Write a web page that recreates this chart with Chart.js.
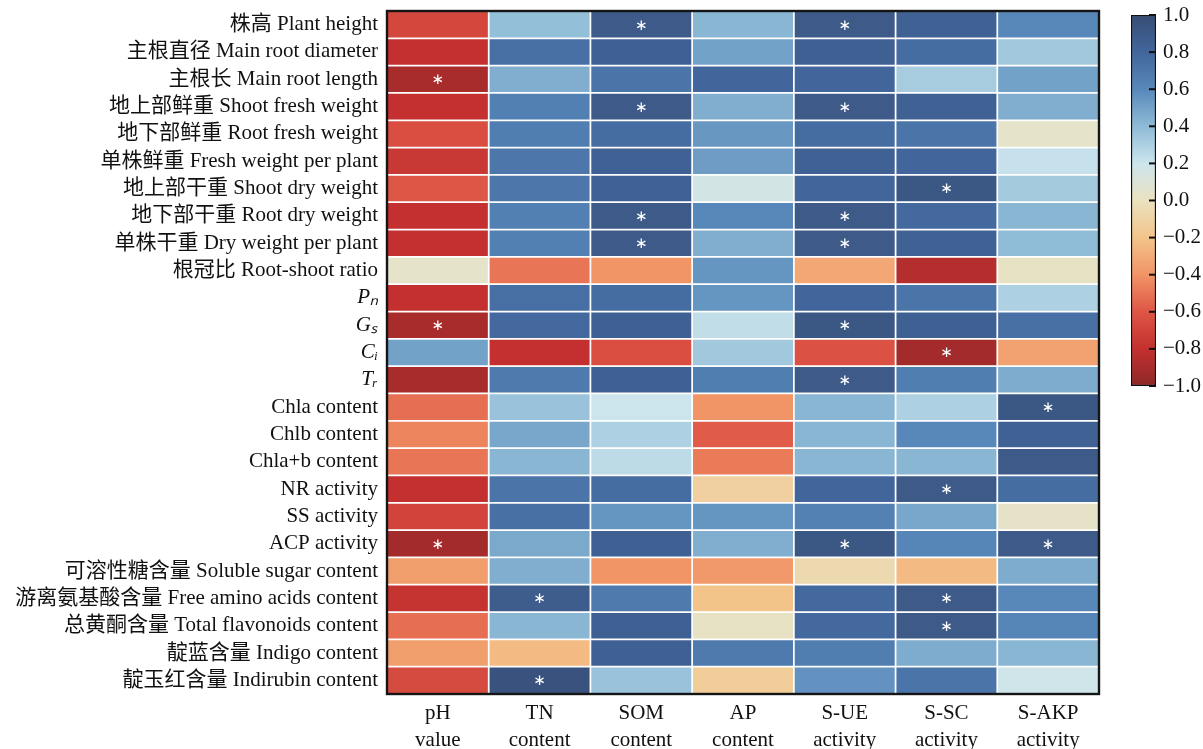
<!DOCTYPE html>
<html>
<head>
<meta charset="utf-8">
<script src="https://cdn.jsdelivr.net/npm/chart.js@4.4.1/dist/chart.umd.min.js"></script>
<style>
  html, body { margin: 0; padding: 0; background: #ffffff; }
  #wrap { position: relative; width: 1203px; height: 749px; overflow: hidden; background: #ffffff; }
  #heat { position: absolute; left: 0; top: 0; }
  #cbar { position: absolute; left: 1100px; top: 0; }
</style>
</head>
<body>
<div id="wrap">
  <canvas id="heat" width="1203" height="749"></canvas>
  <canvas id="cbar" width="103" height="400"></canvas>
</div>
<script>
// ---------------- DATA ----------------
const rowLabels = [
  "株高 Plant height",
  "主根直径 Main root diameter",
  "主根长 Main root length",
  "地上部鲜重 Shoot fresh weight",
  "地下部鲜重 Root fresh weight",
  "单株鲜重 Fresh weight per plant",
  "地上部干重 Shoot dry weight",
  "地下部干重 Root dry weight",
  "单株干重 Dry weight per plant",
  "根冠比 Root-shoot ratio",
  "Pₙ",
  "Gₛ",
  "Cᵢ",
  "Tᵣ",
  "Chla content",
  "Chlb content",
  "Chla+b content",
  "NR activity",
  "SS activity",
  "ACP activity",
  "可溶性糖含量 Soluble sugar content",
  "游离氨基酸含量 Free amino acids content",
  "总黄酮含量 Total flavonoids content",
  "靛蓝含量 Indigo content",
  "靛玉红含量 Indirubin content"
];
const italicRows = [10, 11, 12, 13];

const colLabels = [
  ["pH", "value"],
  ["TN", "content"],
  ["SOM", "content"],
  ["AP", "content"],
  ["S-UE", "activity"],
  ["S-SC", "activity"],
  ["S-AKP", "activity"]
];

// correlation coefficients, one array per soil factor (rows in rowLabels order)
const phValue      = [-0.68,-0.80,-0.90,-0.80,-0.64,-0.76,-0.60,-0.80,-0.80, 0.04,-0.80,-0.90, 0.50,-0.90,-0.52,-0.45,-0.50,-0.80,-0.70,-0.92,-0.36,-0.78,-0.52,-0.36,-0.66];
const tnContent    = [ 0.38, 0.75, 0.45, 0.65, 0.66, 0.70, 0.70, 0.65, 0.65,-0.50, 0.75, 0.78,-0.80, 0.68, 0.36, 0.48, 0.42, 0.72, 0.74, 0.47, 0.45, 0.88, 0.42,-0.24, 0.95];
const somContent   = [ 0.90, 0.85, 0.72, 0.90, 0.76, 0.84, 0.84, 0.90, 0.90,-0.40, 0.76, 0.85,-0.64, 0.85, 0.20, 0.30, 0.25, 0.76, 0.55, 0.85,-0.40, 0.68, 0.85, 0.85, 0.36];
const apContent    = [ 0.42, 0.50, 0.80, 0.45, 0.54, 0.52, 0.16, 0.60, 0.45, 0.55, 0.55, 0.24, 0.34, 0.66,-0.40,-0.58,-0.48,-0.12, 0.55, 0.45,-0.38,-0.20, 0.02, 0.68,-0.14];
const sueActivity  = [ 0.90, 0.85, 0.80, 0.90, 0.76, 0.84, 0.80, 0.90, 0.90,-0.32, 0.80, 0.92,-0.62, 0.90, 0.42, 0.42, 0.42, 0.80, 0.64, 0.92,-0.06, 0.78, 0.78, 0.66, 0.56];
const sscActivity  = [ 0.84, 0.76, 0.32, 0.84, 0.72, 0.80, 0.92, 0.78, 0.84,-0.86, 0.72, 0.85,-0.92, 0.66, 0.30, 0.60, 0.42, 0.90, 0.48, 0.62,-0.24, 0.90, 0.90, 0.46, 0.72];
const sakpActivity = [ 0.60, 0.34, 0.50, 0.45, 0.04, 0.22, 0.33, 0.42, 0.40, 0.02, 0.30, 0.74,-0.34, 0.46, 0.92, 0.84, 0.90, 0.76, 0.03, 0.90, 0.46, 0.60, 0.62, 0.42, 0.18];
const columns = [phValue, tnContent, somContent, apContent, sueActivity, sscActivity, sakpActivity];

// rows (0-based) marked with * in each column
const sigPh   = [2, 11, 19];
const sigTn   = [21, 24];
const sigSom  = [0, 3, 7, 8];
const sigAp   = [];
const sigSue  = [0, 3, 7, 8, 11, 13, 19];
const sigSsc  = [6, 12, 17, 21, 22];
const sigSakp = [14, 19];
const sigCols = [sigPh, sigTn, sigSom, sigAp, sigSue, sigSsc, sigSakp];

const cbarTicks = [-1.0, -0.8, -0.6, -0.4, -0.2, 0.0, 0.2, 0.4, 0.6, 0.8, 1.0];

// ---------------- COLOUR MAP ----------------
const cmapStops = [
  [-1.0, [142, 40, 40]],
  [-0.8, [195, 48, 47]],
  [-0.6, [222, 86, 70]],
  [-0.4, [241, 148, 102]],
  [-0.2, [243, 196, 138]],
  [ 0.0, [235, 226, 192]],
  [ 0.2, [204, 229, 237]],
  [ 0.4, [142, 187, 214]],
  [ 0.6, [88, 136, 186]],
  [ 0.8, [66, 102, 156]],
  [ 1.0, [55, 77, 116]]
];
function cmap(v) {
  v = Math.max(-1, Math.min(1, v));
  for (let i = 0; i < cmapStops.length - 1; i++) {
    const [a, ca] = cmapStops[i], [b, cb] = cmapStops[i + 1];
    if (v >= a && v <= b) {
      const t = (v - a) / (b - a);
      const c = ca.map((x, k) => Math.round(x + (cb[k] - x) * t));
      return `rgb(${c[0]},${c[1]},${c[2]})`;
    }
  }
  return "rgb(55,77,116)";
}

const serif = "'Liberation Serif', 'Times New Roman', 'Noto Sans CJK SC', serif";
const textColor = "#111111";
const FS = 21;

function zeroPad(s) { s.paddingTop = 0; s.paddingBottom = 0; s.paddingLeft = 0; s.paddingRight = 0; }

// ---------------- HEATMAP ----------------
const datasets = columns.map((vals, c) => ({
  label: colLabels[c].join(" "),
  data: vals.map(() => [c, c + 1]),
  backgroundColor: vals.map(v => cmap(v)),
  borderColor: "#ffffff",
  borderWidth: 1.2,
  borderSkipped: false,
  grouped: false,
  barPercentage: 1,
  categoryPercentage: 1
}));

const starsPlugin = {
  id: "stars",
  afterDatasetsDraw(chart) {
    const ctx = chart.ctx, xs = chart.scales.x, ys = chart.scales.y;
    ctx.save();
    ctx.fillStyle = "#ffffff";
    ctx.font = "15px 'DejaVu Sans'";
    ctx.textAlign = "center";
    ctx.textBaseline = "middle";
    sigCols.forEach((rows, c) => {
      rows.forEach(r => {
        ctx.fillText("∗", xs.getPixelForValue(c + 0.5), ys.getPixelForValue(r) + 1);
      });
    });
    const a = chart.chartArea;
    ctx.strokeStyle = "#151515";
    ctx.lineWidth = 2.4;
    ctx.strokeRect(a.left, a.top, a.right - a.left, a.bottom - a.top);
    ctx.restore();
  }
};

new Chart(document.getElementById("heat"), {
  type: "bar",
  data: { labels: rowLabels, datasets },
  options: {
    indexAxis: "y",
    responsive: false,
    animation: false,
    events: [],
    layout: { padding: { left: 0, top: 11, right: 104, bottom: 0 } },
    plugins: { legend: { display: false }, tooltip: { enabled: false } },
    scales: {
      x: {
        type: "linear",
        min: 0,
        max: 7,
        grid: { display: false, drawTicks: false },
        border: { display: false },
        afterBuildTicks: s => { s.ticks = colLabels.map((_, i) => ({ value: i + 0.5 })); },
        afterFit: s => { s.height = 55; zeroPad(s); },
        ticks: {
          autoSkip: false,
          maxRotation: 0,
          padding: 6,
          color: textColor,
          font: { family: serif, size: FS, lineHeight: 27 / FS },
          callback: (v) => colLabels[Math.round(v - 0.5)]
        }
      },
      y: {
        type: "category",
        grid: { display: false, drawTicks: false },
        border: { display: false },
        afterFit: s => { s.width = 387; zeroPad(s); },
        ticks: {
          autoSkip: false,
          padding: 9,
          color: textColor,
          font: (ctx) => ({
            family: serif,
            size: FS,
            style: italicRows.includes(ctx.index) ? "italic" : "normal"
          })
        }
      }
    }
  },
  plugins: [starsPlugin]
});

// ---------------- COLOUR BAR ----------------
const cbarTickMarks = {
  id: "cbarTickMarks",
  afterDatasetsDraw(chart) {
    const ctx = chart.ctx, ys = chart.scales.y, a = chart.chartArea;
    ctx.save();
    ctx.strokeStyle = "#111111";
    ctx.lineWidth = 2;
    cbarTicks.forEach(t => {
      const y = ys.getPixelForValue(t);
      ctx.beginPath();
      ctx.moveTo(a.right - 7, y);
      ctx.lineTo(a.right, y);
      ctx.stroke();
    });
    ctx.restore();
  }
};

new Chart(document.getElementById("cbar"), {
  type: "bar",
  data: {
    labels: [""],
    datasets: [{
      data: [[-1, 1]],
      backgroundColor: (ctx) => {
        const area = ctx.chart.chartArea;
        if (!area) return "#ccc";
        const g = ctx.chart.ctx.createLinearGradient(0, area.bottom, 0, area.top);
        cmapStops.forEach(([v]) => g.addColorStop((v + 1) / 2, cmap(v)));
        return g;
      },
      borderColor: "#111111",
      borderWidth: 1.5,
      borderSkipped: false,
      barPercentage: 1,
      categoryPercentage: 1
    }]
  },
  options: {
    responsive: false,
    animation: false,
    events: [],
    layout: { padding: { left: 31, top: 15, right: 0, bottom: 14 } },
    plugins: { legend: { display: false }, tooltip: { enabled: false } },
    scales: {
      x: { display: false },
      y: {
        type: "linear",
        position: "right",
        min: -1,
        max: 1,
        grid: { display: false, drawTicks: false },
        border: { display: false },
        afterBuildTicks: s => { s.ticks = cbarTicks.map(v => ({ value: v })); },
        afterFit: s => { s.width = 47; zeroPad(s); },
        ticks: {
          padding: 7,
          color: textColor,
          font: { family: serif, size: FS },
          callback: v => (v < 0 ? "\u2212" : "") + Math.abs(v).toFixed(1)
        }
      }
    }
  },
  plugins: [cbarTickMarks]
});
</script>
</body>
</html>
